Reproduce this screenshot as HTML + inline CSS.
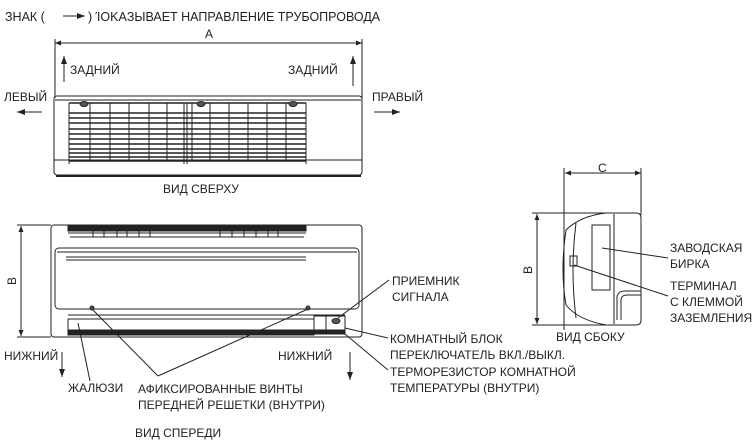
<!DOCTYPE html>
<html><head><meta charset="utf-8"><style>
html,body{margin:0;padding:0;background:#fff;}
svg{display:block;}
text{font-family:"Liberation Sans",Arial,sans-serif;font-size:12px;fill:#222;}
</style></head><body>
<svg width="755" height="447" viewBox="0 0 755 447" xmlns="http://www.w3.org/2000/svg">
<defs>
<marker id="ah" markerWidth="8" markerHeight="6" refX="8" refY="3" orient="auto" markerUnits="userSpaceOnUse"><path d="M0,0 L8,3 L0,6 Z" fill="#222"/></marker>
<marker id="ahs" markerWidth="6" markerHeight="5" refX="6" refY="2.5" orient="auto-start-reverse" markerUnits="userSpaceOnUse"><path d="M0,0 L6,2.5 L0,5 Z" fill="#222"/></marker>
</defs>
<g stroke="#222" fill="none" stroke-width="1">
<!-- header -->
<line x1="63" y1="16" x2="85" y2="16" marker-end="url(#ah)"/>
<!-- top view dimension A -->
<line x1="55" y1="43" x2="362" y2="43" marker-start="url(#ahs)" marker-end="url(#ahs)"/>
<line x1="55" y1="39" x2="55" y2="98"/>
<line x1="362" y1="39" x2="362" y2="98"/>
<line x1="64" y1="82" x2="64" y2="56" marker-end="url(#ah)"/>
<line x1="353" y1="86" x2="353" y2="56" marker-end="url(#ah)"/>
<line x1="42" y1="112" x2="17" y2="112" marker-end="url(#ah)"/>
<line x1="374" y1="112" x2="400" y2="112" marker-end="url(#ah)"/>
<!-- top body -->
<rect x="54" y="96" width="308" height="79" rx="3"/>
<line x1="55" y1="100" x2="361" y2="100"/>
<line x1="54" y1="160" x2="362" y2="160"/>
<line x1="56" y1="176" x2="361" y2="176" stroke-width="2"/>
<g stroke-width="1.6">
<line x1="69" y1="103" x2="306" y2="103"/>
<line x1="69" y1="113" x2="306" y2="113"/>
<line x1="69" y1="118" x2="306" y2="118"/>
<line x1="69" y1="123" x2="306" y2="123"/>
<line x1="69" y1="129" x2="306" y2="129"/>
<line x1="69" y1="134" x2="306" y2="134"/>
<line x1="69" y1="139" x2="306" y2="139"/>
<line x1="69" y1="144" x2="306" y2="144"/>
<line x1="69" y1="149" x2="306" y2="149"/>
<line x1="69" y1="153" x2="306" y2="153"/>
<line x1="69" y1="157" x2="306" y2="157"/>
<line x1="69" y1="161" x2="306" y2="161"/>
</g>
<g>
<line x1="69" y1="103" x2="69" y2="164"/><line x1="90" y1="103" x2="90" y2="161"/>
<line x1="110" y1="103" x2="110" y2="161"/><line x1="129" y1="103" x2="129" y2="161"/>
<line x1="149" y1="103" x2="149" y2="161"/><line x1="167" y1="103" x2="167" y2="161"/>
<line x1="184" y1="103" x2="184" y2="164"/><line x1="187" y1="103" x2="187" y2="164"/>
<line x1="192" y1="103" x2="192" y2="161"/><line x1="210" y1="103" x2="210" y2="161"/>
<line x1="229" y1="103" x2="229" y2="161"/><line x1="248" y1="103" x2="248" y2="161"/>
<line x1="267" y1="103" x2="267" y2="161"/><line x1="286" y1="103" x2="286" y2="161"/>
<line x1="306" y1="103" x2="306" y2="164"/>
</g>
<ellipse cx="84" cy="104" rx="4" ry="2.5" fill="#555"/>
<ellipse cx="201" cy="104" rx="4" ry="2.5" fill="#555"/>
<ellipse cx="293" cy="104" rx="4" ry="2.5" fill="#555"/>
<!-- front view -->
<rect x="51" y="225" width="311" height="112" rx="3"/>
<rect x="68" y="226" width="238" height="5" fill="#222"/>
<line x1="68" y1="233" x2="306" y2="233"/>
<line x1="70" y1="237" x2="304" y2="237"/>
<path d="M93,231v6M104,231v6M117,231v6M127,231v6M139,231v6M150,231v6M220,231v6M232,231v6M244,231v6M256,231v6M268,231v6M278,231v6"/>
<rect x="55" y="248" width="304" height="61" rx="4"/>
<line x1="57" y1="252" x2="357" y2="252"/>
<line x1="66" y1="257" x2="306" y2="257"/>
<line x1="66" y1="260" x2="306" y2="260"/>
<line x1="68" y1="315" x2="345" y2="315"/>
<rect x="68" y="319" width="246" height="16"/>
<rect x="68" y="330" width="277" height="4" fill="#222"/>
<rect x="314" y="316" width="12" height="14"/>
<rect x="326" y="316" width="19" height="14"/>
<ellipse cx="336" cy="321" rx="4" ry="2.5" fill="#555"/>
<circle cx="92" cy="308" r="2" fill="#555"/>
<circle cx="308" cy="308" r="2" fill="#555"/>
<!-- dimension B front -->
<line x1="21" y1="226" x2="21" y2="336" marker-start="url(#ahs)" marker-end="url(#ahs)"/>
<line x1="17" y1="225" x2="51" y2="225"/>
<line x1="17" y1="337" x2="51" y2="337"/>
<line x1="62" y1="352" x2="62" y2="377" marker-end="url(#ah)"/>
<line x1="350" y1="352" x2="350" y2="380" marker-end="url(#ah)"/>
<!-- leaders front -->
<line x1="92" y1="309" x2="158" y2="376"/>
<line x1="308" y1="309" x2="158" y2="376"/>
<line x1="78" y1="323" x2="90" y2="381"/>
<line x1="389" y1="280" x2="338" y2="318"/>
<line x1="345" y1="328" x2="388" y2="338"/>
<line x1="345" y1="334" x2="388" y2="370"/>
<!-- side view -->
<line x1="565" y1="173" x2="641" y2="173" marker-start="url(#ahs)" marker-end="url(#ahs)"/>
<line x1="564" y1="168" x2="564" y2="330"/>
<line x1="641" y1="168" x2="641" y2="215"/>
<line x1="537" y1="214" x2="537" y2="324" marker-start="url(#ahs)" marker-end="url(#ahs)"/>
<line x1="532" y1="213" x2="610" y2="213"/>
<line x1="532" y1="325" x2="610" y2="325"/>
<path d="M606,213 L636,213 Q641,213 641,218 L641,320 Q641,325 636,325 L606,325"/>
<path d="M606,213 Q580,216 566,230 Q560,270 566,305 Q578,320 606,325"/>
<path d="M576,223 Q570,270 576,318"/>
<line x1="614" y1="214" x2="614" y2="324"/>
<rect x="592" y="225" width="18" height="65"/>
<rect x="570" y="256" width="7" height="10"/>
<path d="M617,320 L617,296 Q619,291 624,291 L641,291"/>
<path d="M621,320 L621,299 Q622,295 627,295 L641,295"/>
<line x1="602" y1="248" x2="668" y2="258"/>
<line x1="574" y1="265" x2="668" y2="296"/>
</g>
<text x="5" y="21" style="font-size:12.5px">ЗНАК (</text><text x="88" y="21" style="font-size:12.5px">) ΊΟΚΑЗЫВАЕТ НАПРАВЛЕНИЕ ТРУБОПРОВОДА</text>
<text x="205" y="38">A</text>
<text x="70" y="74">ЗАДНИЙ</text>
<text x="288" y="74">ЗАДНИЙ</text>
<text x="4" y="101">ЛЕВЫЙ</text>
<text x="372" y="101">ПРАВЫЙ</text>
<text x="163" y="193">ВИД СВЕРХУ</text>
<text transform="translate(16,281) rotate(-90)" text-anchor="middle">B</text>
<text x="4" y="360">НИЖНИЙ</text>
<text x="278" y="360">НИЖНИЙ</text>
<text x="68" y="392">ЖАЛЮЗИ</text>
<text x="138" y="393">АФИКСИРОВАННЫЕ ВИНТЫ</text>
<text x="138" y="409">ПЕРЕДНЕЙ РЕШЕТКИ (ВНУТРИ)</text>
<text x="135" y="437">ВИД СПЕРЕДИ</text>
<text x="392" y="285">ПРИЕМНИК</text>
<text x="392" y="301">СИГНАЛА</text>
<text x="390" y="343">КОМНАТНЫЙ БЛОК</text>
<text x="390" y="359">ПЕРЕКЛЮЧАТЕЛЬ ВКЛ./ВЫКЛ.</text>
<text x="390" y="376">ТЕРМОРЕЗИСТОР КОМНАТНОЙ</text>
<text x="390" y="392">ТЕМПЕРАТУРЫ (ВНУТРИ)</text>
<text x="598" y="172">C</text>
<text transform="translate(532,270) rotate(-90)" text-anchor="middle">B</text>
<text x="670" y="252">ЗАВОДСКАЯ</text>
<text x="670" y="268">БИРКА</text>
<text x="670" y="290">ТЕРМИНАЛ</text>
<text x="670" y="306">С КЛЕММОЙ</text>
<text x="670" y="322">ЗАЗЕМЛЕНИЯ</text>
<text x="556" y="341">ВИД СБОКУ</text>
</svg>
</body></html>
